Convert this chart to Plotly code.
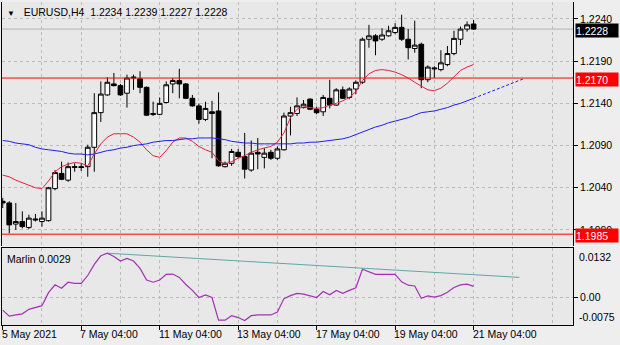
import plotly.graph_objects as go

# EURUSD H4 bars, index 0 = 5 May 2021 04:00 ... index 72 = 21 May 2021 04:00
opens = [1.2024, 1.2022, 1.1997, 1.2000, 1.1993, 1.2003, 1.2000, 1.2001, 1.2039, 1.2057,
         1.2049, 1.2064, 1.2065, 1.2065, 1.2088, 1.2129, 1.2150, 1.2163, 1.2161, 1.2152,
         1.2170, 1.2169, 1.2159, 1.2128, 1.2127, 1.2141, 1.2163, 1.2167, 1.2163, 1.2146,
         1.2137, 1.2121, 1.2130, 1.2131, 1.2065, 1.2069, 1.2082, 1.2077, 1.2061, 1.2082,
         1.2076, 1.2082, 1.2075, 1.2085, 1.2125, 1.2128, 1.2135, 1.2145, 1.2133, 1.2130,
         1.2146, 1.2138, 1.2156, 1.2147, 1.2157, 1.2165, 1.2216, 1.2220, 1.2216, 1.2220,
         1.2224, 1.2230, 1.2216, 1.2205, 1.2210, 1.2168, 1.2182, 1.2180, 1.2186, 1.2199,
         1.2216, 1.2228, 1.2234]
highs = [1.2028, 1.2024, 1.2022, 1.2012, 1.2008, 1.2009, 1.2012, 1.2041, 1.2061, 1.2071,
         1.2070, 1.2069, 1.2069, 1.2091, 1.2152, 1.2166, 1.2171, 1.2176, 1.2163, 1.2174,
         1.2174, 1.2178, 1.2160, 1.2142, 1.2147, 1.2166, 1.2170, 1.2181, 1.2164, 1.2150,
         1.2140, 1.2142, 1.2143, 1.2153, 1.2071, 1.2086, 1.2086, 1.2105, 1.2096, 1.2099,
         1.2087, 1.2085, 1.2089, 1.2129, 1.2136, 1.2147, 1.2144, 1.2146, 1.2136, 1.2150,
         1.2168, 1.2158, 1.2160, 1.2159, 1.2167, 1.2218, 1.2233, 1.2222, 1.2229, 1.2232,
         1.2235, 1.2245, 1.2228, 1.2238, 1.2212, 1.2185, 1.2184, 1.2203, 1.2208, 1.2226,
         1.2231, 1.2237, 1.2239]
lows = [1.2016, 1.1986, 1.1990, 1.1992, 1.1991, 1.2000, 1.1994, 1.2000, 1.2037, 1.2049,
        1.2047, 1.2059, 1.2060, 1.2053, 1.2059, 1.2118, 1.2149, 1.2160, 1.2149, 1.2135,
        1.2156, 1.2152, 1.2125, 1.2125, 1.2126, 1.2140, 1.2152, 1.2146, 1.2145, 1.2136,
        1.2116, 1.2119, 1.2075, 1.2065, 1.2064, 1.2066, 1.2075, 1.2051, 1.2059, 1.2062,
        1.2063, 1.2073, 1.2073, 1.2084, 1.2102, 1.2125, 1.2134, 1.2132, 1.2127, 1.2125,
        1.2134, 1.2137, 1.2145, 1.2145, 1.2151, 1.2163, 1.2206, 1.2197, 1.2214, 1.2219,
        1.2222, 1.2214, 1.2192, 1.2200, 1.2158, 1.2165, 1.2170, 1.2178, 1.2184, 1.2197,
        1.2209, 1.2225, 1.2227]
closes = [1.2022, 1.1996, 1.2000, 1.1994, 1.2004, 1.2002, 1.2004, 1.2040, 1.2058, 1.2050,
          1.2065, 1.2065, 1.2064, 1.2088, 1.2129, 1.2151, 1.2165, 1.2161, 1.2150, 1.2170,
          1.2171, 1.2159, 1.2126, 1.2127, 1.2140, 1.2162, 1.2167, 1.2163, 1.2146, 1.2137,
          1.2121, 1.2134, 1.2128, 1.2066, 1.2069, 1.2083, 1.2077, 1.2062, 1.2081, 1.2080,
          1.2081, 1.2075, 1.2086, 1.2125, 1.2129, 1.2137, 1.2139, 1.2133, 1.2129, 1.2147,
          1.2138, 1.2156, 1.2146, 1.2157, 1.2165, 1.2216, 1.2220, 1.2214, 1.2221, 1.2226,
          1.2230, 1.2216, 1.2206, 1.2209, 1.2168, 1.2183, 1.2181, 1.2188, 1.2199, 1.2217,
          1.2228, 1.2233, 1.2228]
bars = list(range(len(opens)))

# fast (red) and slow (blue) moving averages, one value per bar
ma_fast = [1.2055, 1.2053, 1.2049, 1.2046, 1.2043, 1.2040, 1.2039, 1.2048, 1.2059, 1.2065,
           1.2068, 1.2070, 1.2069, 1.2066, 1.2080, 1.2092, 1.2100, 1.2104, 1.2104, 1.2104,
           1.2100, 1.2094, 1.2085, 1.2078, 1.2076, 1.2084, 1.2094, 1.2099, 1.2099, 1.2095,
           1.2089, 1.2085, 1.2082, 1.2072, 1.2068, 1.2071, 1.2075, 1.2078, 1.2082, 1.2085,
           1.2087, 1.2089, 1.2094, 1.2105, 1.2123, 1.2133, 1.2136, 1.2135, 1.2134, 1.2135,
           1.2138, 1.2140, 1.2143, 1.2147, 1.2154, 1.2167, 1.2175, 1.2179, 1.2180, 1.2179,
           1.2177, 1.2174, 1.2170, 1.2165, 1.2160, 1.2156, 1.2155, 1.2158, 1.2164, 1.2172,
           1.2179, 1.2183, 1.2186]
ma_slow = [1.2096, 1.2095, 1.2093, 1.2092, 1.2091, 1.2088, 1.2086, 1.2085, 1.2084, 1.2083,
           1.2081, 1.2080, 1.2080, 1.2079, 1.2080, 1.2082, 1.2084, 1.2085, 1.2087, 1.2088,
           1.2090, 1.2091, 1.2092, 1.2094, 1.2095, 1.2096, 1.2096, 1.2097, 1.2098, 1.2098,
           1.2099, 1.2099, 1.2099, 1.2098, 1.2097, 1.2095, 1.2094, 1.2093, 1.2093, 1.2092,
           1.2092, 1.2092, 1.2092, 1.2092, 1.2092, 1.2093, 1.2093, 1.2094, 1.2094, 1.2095,
           1.2096, 1.2097, 1.2098, 1.2100, 1.2103, 1.2106, 1.2109, 1.2112, 1.2114, 1.2117,
           1.2119, 1.2121, 1.2123, 1.2126, 1.2129, 1.2130, 1.2131, 1.2133, 1.2135, 1.2138,
           1.2140, 1.2143, 1.2146]
# projected continuation of the slow average (dashed)
ma_slow_proj_x = [72, 79.6]
ma_slow_proj_y = [1.2146, 1.2169]

# Marlin oscillator and its trend line
marlin = [-0.0035, -0.0051, -0.0048, -0.0045, -0.0033, -0.0029, -0.0023, 0.0012, 0.0033, 0.0024,
          0.0040, 0.0037, 0.0037, 0.0058, 0.0088, 0.0111, 0.0118, 0.0109, 0.0097, 0.0104,
          0.0097, 0.0077, 0.0046, 0.0040, 0.0046, 0.0061, 0.0062, 0.0053, 0.0034, 0.0018,
          -0.0001, 0.0006, -0.0001, -0.0062, -0.0062, -0.0050, -0.0055, -0.0063, -0.0050, -0.0048,
          -0.0048, -0.0048, -0.0040, -0.0004, 0.0004, 0.0010, 0.0008, 0.0003, -0.0001, 0.0015,
          0.0006, 0.0018, 0.0010, 0.0018, 0.0025, 0.0075, 0.0069, 0.0061, 0.0061, 0.0061,
          0.0061, 0.0041, 0.0032, 0.0030, -0.0003, 0.0003, 0.0000, 0.0004, 0.0013, 0.0026,
          0.0033, 0.0035, 0.0029]
marlin_trend_x = [16, 79]
marlin_trend_y = [0.0118, 0.0053]

levels = [1.2170, 1.1985]
price_ticks = [1.2240, 1.2190, 1.2140, 1.2090, 1.2040, 1.1990]
marlin_range = [-0.0075, 0.0132]
time_tick_bars = [0, 12, 24, 36, 48, 60, 72]
time_tick_labels = ["5 May 2021", "7 May 04:00", "11 May 04:00", "13 May 04:00",
                    "17 May 04:00", "19 May 04:00", "21 May 04:00"]
day_grid_bars = [6, 18, 30, 42, 54, 66, 78, 84]

FONT = "Liberation Sans, Arial, sans-serif"
FS = 10.5
GRID = "#BBBBBB"
X_RANGE = [-0.11, 87.2]
NBSP = "\u00a0"

fig = go.Figure()

fig.add_trace(go.Candlestick(
    x=bars, open=opens, high=highs, low=lows, close=closes,
    xaxis="x", yaxis="y",
    increasing=dict(line=dict(color="black", width=1), fillcolor="white"),
    decreasing=dict(line=dict(color="black", width=1), fillcolor="black"),
    whiskerwidth=0, hoverinfo="skip", showlegend=False,
))
fig.add_trace(go.Scatter(x=bars, y=ma_fast, mode="lines", xaxis="x", yaxis="y",
                         line=dict(color="#E3223F", width=1), hoverinfo="skip", showlegend=False))
fig.add_trace(go.Scatter(x=bars, y=ma_slow, mode="lines", xaxis="x", yaxis="y",
                         line=dict(color="#1F1FF0", width=1), hoverinfo="skip", showlegend=False))
fig.add_trace(go.Scatter(x=ma_slow_proj_x, y=ma_slow_proj_y, mode="lines", xaxis="x", yaxis="y",
                         line=dict(color="#1F1FF0", width=1, dash="3px,2px"),
                         hoverinfo="skip", showlegend=False))

fig.add_trace(go.Scatter(x=marlin_trend_x, y=marlin_trend_y, mode="lines", xaxis="x2", yaxis="y2",
                         line=dict(color="#5FA8A8", width=1), hoverinfo="skip", showlegend=False))
fig.add_trace(go.Scatter(x=bars, y=marlin, mode="lines", xaxis="x2", yaxis="y2",
                         line=dict(color="#A431B4", width=1.2), hoverinfo="skip", showlegend=False))

shapes = [dict(type="line", xref="x domain", x0=0, x1=1, yref="y", y0=closes[-1], y1=closes[-1],
               line=dict(color="#B4B4B4", width=1), layer="below")]
for lv in levels:
    shapes.append(dict(type="line", xref="x domain", x0=0, x1=1, yref="y", y0=lv, y1=lv,
                       line=dict(color="#FF0000", width=1), layer="above"))

annotations = []
# symbol / timeframe header with the last bar's OHLC
header = ("<span style='font-size:8px'>▼</span>" + NBSP * 3 + "EURUSD,H4" + NBSP * 2 +
          " ".join("{:.4f}".format(v) for v in (opens[-1], highs[-1], lows[-1], closes[-1])))
annotations.append(dict(
    xref="paper", x=0, xanchor="left", xshift=3, yref="paper", y=1, yanchor="top", yshift=-2,
    text=header, showarrow=False, font=dict(family=FONT, size=FS, color="black")))
annotations.append(dict(
    xref="paper", x=0, xanchor="left", xshift=3, yref="y2 domain", y=1, yanchor="top", yshift=-3,
    text="Marlin {:.4f}".format(marlin[-1]), showarrow=False,
    font=dict(family=FONT, size=FS, color="black")))

# price tags on the right scale
def price_tag(value, bg):
    return dict(xref="paper", x=1, xanchor="left", xshift=2, yref="y", y=value, yanchor="middle",
                yshift=-1, text="{:.4f}".format(value), showarrow=False, bgcolor=bg, borderpad=0,
                width=42, height=13, align="left",
                font=dict(family=FONT, size=FS, color="white"))

annotations.append(price_tag(closes[-1], "black"))
for lv in levels:
    annotations.append(price_tag(lv, "#FF0000"))

# edge labels of the oscillator scale
annotations.append(dict(xref="paper", x=1, xanchor="left", xshift=4, yref="y2", y=marlin_range[1],
                        yanchor="top", yshift=-1, text="{:.4f}".format(marlin_range[1]),
                        showarrow=False, font=dict(family=FONT, size=FS, color="black")))
annotations.append(dict(xref="paper", x=1, xanchor="left", xshift=4, yref="y2", y=marlin_range[0],
                        yanchor="bottom", yshift=0, text="{:.4f}".format(marlin_range[0]),
                        showarrow=False, font=dict(family=FONT, size=FS, color="black")))

# time labels start at their tick, as in the terminal
for b, lab in zip(time_tick_bars, time_tick_labels):
    annotations.append(dict(xref="x2", x=b, xanchor="left", xshift=-3, yref="paper", y=0,
                            yanchor="top", yshift=-1, text=lab, showarrow=False,
                            font=dict(family=FONT, size=FS, color="black")))

grid_common = dict(showgrid=True, gridcolor=GRID, griddash="dot", gridwidth=1, zeroline=False)
minor_grid = dict(tickvals=day_grid_bars, showgrid=True, gridcolor=GRID, griddash="dot",
                  gridwidth=1, ticks="")

fig.update_layout(
    width=620, height=345,
    margin=dict(l=2, r=47, t=2, b=20),
    paper_bgcolor="#EEEEEE", plot_bgcolor="#E8E8E8",
    font=dict(family=FONT, size=FS, color="black"),
    boxgap=0.28, boxgroupgap=0,
    showlegend=False,
    shapes=shapes, annotations=annotations,
    xaxis=dict(domain=[0, 1], anchor="y", range=X_RANGE, tickvals=time_tick_bars,
               showticklabels=False, ticks="", showline=False, minor=minor_grid,
               rangeslider=dict(visible=False), **grid_common),
    yaxis=dict(domain=[0.2446, 1], anchor="x", side="right", range=[1.19710, 1.22601],
               tickvals=price_ticks, ticktext=["{:.4f}".format(v) for v in price_ticks],
               ticks="outside", ticklen=4, tickcolor="black", showline=True, linecolor="black",
               mirror=True, **grid_common),
    xaxis2=dict(domain=[0, 1], anchor="y2", range=X_RANGE, tickvals=time_tick_bars,
                showticklabels=False, ticks="outside", ticklen=4, tickcolor="black",
                showline=True, linecolor="black", mirror=True, minor=minor_grid,
                **grid_common),
    yaxis2=dict(domain=[0, 0.2384], anchor="x2", side="right", range=marlin_range,
                tickvals=[0], ticktext=["0.00"], ticks="outside", ticklen=4, tickcolor="black",
                showline=True, linecolor="black", mirror=True, **grid_common),
)

fig.write_html("out.html")
